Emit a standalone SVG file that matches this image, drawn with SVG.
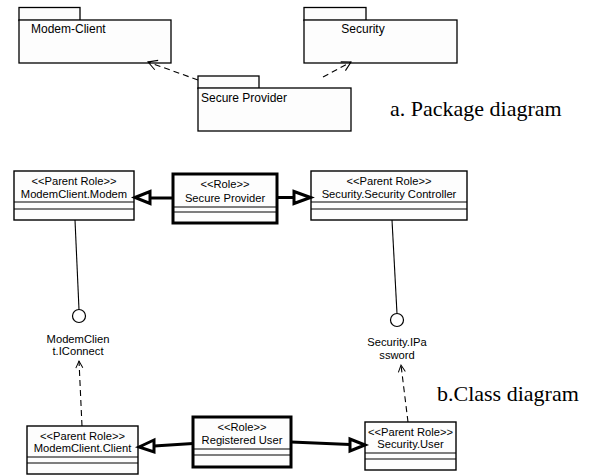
<svg xmlns="http://www.w3.org/2000/svg" width="595" height="475" viewBox="0 0 595 475">
<defs>
<marker id="open" markerWidth="12" markerHeight="12" refX="10" refY="6" orient="auto" markerUnits="userSpaceOnUse">
<path d="M1,1 L10,6 L1,11" fill="none" stroke="#000" stroke-width="1.1"/>
</marker>
<marker id="openS" markerWidth="10" markerHeight="10" refX="8" refY="5" orient="auto" markerUnits="userSpaceOnUse">
<path d="M1,1.5 L8,5 L1,8.5" fill="none" stroke="#000" stroke-width="1"/>
</marker>
</defs>
<style>
.pk{fill:#fdfdfd;stroke:#000;stroke-width:1.3}
.cls{fill:#fdfdfd;stroke:#000;stroke-width:1.4}
.role{fill:#fdfdfd;stroke:#000;stroke-width:3}
.sep{stroke:#000;stroke-width:1.2}
.t{font-family:"Liberation Sans",Arial,sans-serif;font-size:12px;fill:#000}
.s{font-family:"Liberation Sans",Arial,sans-serif;font-size:11.2px;fill:#000;text-anchor:middle}
.cap{font-family:"Liberation Serif","Times New Roman",serif;font-size:22px;fill:#000}
.dash{fill:none;stroke:#000;stroke-width:1.1;stroke-dasharray:6,4}
.thin{fill:none;stroke:#000;stroke-width:1.1}
.gen{fill:none;stroke:#000;stroke-width:3}
.tri{fill:#fff;stroke:#000;stroke-width:3;stroke-linejoin:miter}
.ball{fill:#fff;stroke:#000;stroke-width:1.2}
</style>
<rect width="595" height="475" fill="#fff"/>

<g id="pkg-modem-client">
<rect class="pk" x="19" y="7.5" width="61" height="13"/>
<rect class="pk" x="19" y="20" width="152" height="43"/>
<text class="t" x="31" y="33">Modem-Client</text>
</g>
<g id="pkg-security">
<rect class="pk" x="304" y="7.5" width="62" height="13"/>
<rect class="pk" x="304" y="20" width="153" height="43"/>
<text class="t" x="363" y="33" text-anchor="middle">Security</text>
</g>
<g id="pkg-secure-provider">
<rect class="pk" x="198" y="76" width="61" height="12.5"/>
<rect class="pk" x="198" y="88" width="153" height="43"/>
<text class="t" x="201" y="102">Secure Provider</text>
</g>
<text id="cap-a" class="cap" x="390" y="116">a. Package diagram</text>

<g id="cls-modem">
<rect class="cls" x="14" y="171" width="120" height="49"/>
<line class="sep" x1="14" y1="202" x2="134" y2="202"/>
<line class="sep" x1="14" y1="209" x2="134" y2="209"/>
<text class="s" x="74" y="185">&lt;&lt;Parent Role&gt;&gt;</text>
<text class="s" x="74" y="197.5">ModemClient.Modem</text>
</g>
<g id="role-secure-provider">
<rect class="role" x="173" y="174" width="104" height="49"/>
<line class="sep" x1="173" y1="207" x2="277" y2="207"/>
<line class="sep" x1="173" y1="212" x2="277" y2="212"/>
<text class="s" x="225" y="188">&lt;&lt;Role&gt;&gt;</text>
<text class="s" x="225" y="201.5">Secure Provider</text>
</g>
<g id="cls-sec-controller">
<rect class="cls" x="311" y="171" width="156" height="49"/>
<line class="sep" x1="311" y1="202" x2="467" y2="202"/>
<line class="sep" x1="311" y1="209" x2="467" y2="209"/>
<text class="s" x="389" y="185">&lt;&lt;Parent Role&gt;&gt;</text>
<text class="s" x="389" y="197.5">Security.Security Controller</text>
</g>

<g id="if-iconnect">
<circle class="ball" cx="79" cy="316" r="6.5"/>
<text class="s" x="78" y="343">ModemClien</text>
<text class="s" x="78" y="355">t.IConnect</text>
</g>
<g id="if-ipassword">
<circle class="ball" cx="397" cy="320" r="6.5"/>
<text class="s" x="397" y="346">Security.IPa</text>
<text class="s" x="397" y="359">ssword</text>
</g>

<g id="cls-client">
<rect class="cls" x="27" y="426" width="111" height="48"/>
<line class="sep" x1="27" y1="457" x2="138" y2="457"/>
<line class="sep" x1="27" y1="463" x2="138" y2="463"/>
<text class="s" x="82.5" y="439.5">&lt;&lt;Parent Role&gt;&gt;</text>
<text class="s" x="82.5" y="452">ModemClient.Client</text>
</g>
<g id="role-registered-user">
<rect class="role" x="193" y="417" width="98" height="50"/>
<line class="sep" x1="193" y1="449" x2="291" y2="449"/>
<line class="sep" x1="193" y1="455" x2="291" y2="455"/>
<text class="s" x="242" y="431">&lt;&lt;Role&gt;&gt;</text>
<text class="s" x="242" y="443.5">Registered User</text>
</g>
<g id="cls-sec-user">
<rect class="cls" x="365" y="422" width="91" height="48"/>
<line class="sep" x1="365" y1="453" x2="456" y2="453"/>
<line class="sep" x1="365" y1="459" x2="456" y2="459"/>
<text class="s" x="410.5" y="436">&lt;&lt;Parent Role&gt;&gt;</text>
<text class="s" x="410.5" y="448">Security.User</text>
</g>
<text id="cap-b" class="cap" x="437" y="401">b.Class diagram</text>

<g id="connectors">
<line class="dash" x1="198" y1="80" x2="148" y2="62" marker-end="url(#open)"/>
<line class="dash" x1="323" y1="77" x2="351" y2="62" marker-end="url(#open)"/>
<line class="gen" x1="173" y1="198" x2="150" y2="198"/>
<polygon class="tri" points="135,197.5 150,191.5 150,203.5"/>
<line class="gen" x1="277" y1="197.5" x2="294" y2="197.5"/>
<polygon class="tri" points="310.5,197.5 294,191.5 294,203.5"/>
<line class="thin" x1="75" y1="220" x2="79" y2="309.5"/>
<line class="thin" x1="392" y1="220" x2="397" y2="313.5"/>
<line class="dash" x1="82" y1="426" x2="79" y2="361" marker-end="url(#openS)"/>
<line class="dash" x1="408" y1="422" x2="401" y2="365" marker-end="url(#openS)"/>
<line class="gen" x1="193" y1="443.5" x2="154" y2="446"/>
<polygon class="tri" points="139,447 154,440 154,452"/>
<line class="gen" x1="291" y1="442" x2="350" y2="444.5"/>
<polygon class="tri" points="365,445 350,439 350,451"/>
</g>
</svg>
